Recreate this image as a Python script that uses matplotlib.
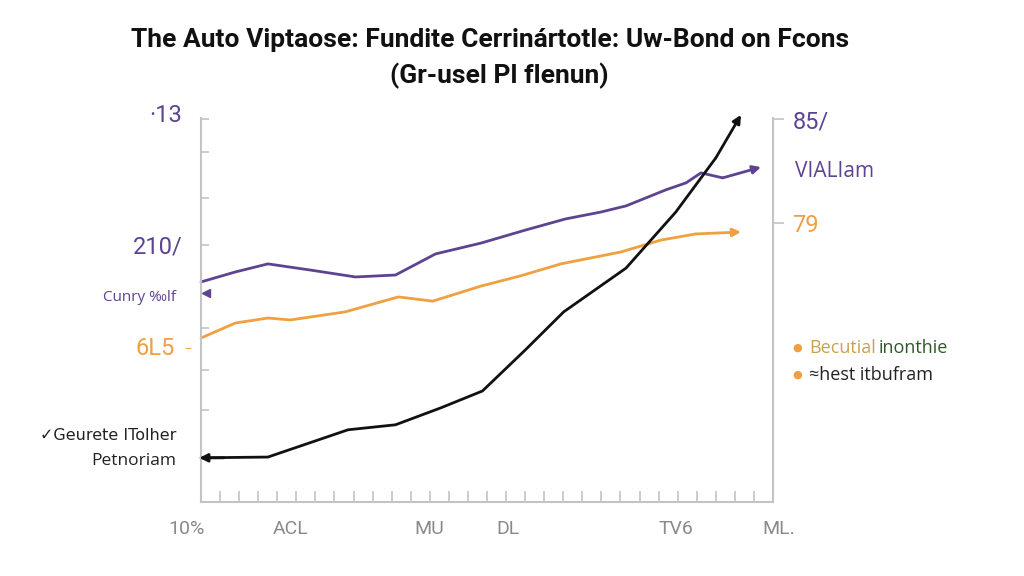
import numpy as np
import matplotlib
matplotlib.use("Agg")
import matplotlib.pyplot as plt

# series values (x runs 0..100 along the axis, y 0..100)
purple_x = [0, 6.0, 11.7, 19.1, 27.0, 34.0, 41.0, 48.9, 56.7, 63.7, 69.9, 74.3, 81.3, 84.8, 87.4, 91.2, 97.9]
purple_y = [57.3, 59.9, 62.0, 60.4, 58.6, 59.1, 64.6, 67.4, 70.8, 73.7, 75.5, 77.1, 81.3, 83.1, 85.7, 84.4, 87.2]

orange_x = [0, 6.0, 11.7, 15.6, 25.2, 34.5, 40.5, 48.9, 55.9, 62.9, 73.4, 80.4, 86.5, 94.4]
orange_y = [42.7, 46.6, 47.9, 47.4, 49.5, 53.4, 52.3, 56.2, 58.9, 62.0, 65.1, 68.2, 69.8, 70.3]

black_x = [0, 11.7, 25.7, 34.0, 41.9, 49.2, 56.7, 63.4, 74.3, 83.0, 90.0, 94.4]
black_y = [11.5, 11.7, 18.8, 20.1, 24.5, 28.9, 39.6, 49.5, 60.9, 75.5, 89.6, 100.8]

x_labels = ["10%", "ACL", "MU", "DL", "TV6", "ML."]
x_label_pos = [-2.5, 15.6, 39.9, 53.6, 83.0, 101.0]

left_ticks = [99.7, 91.1, 79.2, 66.9, 45.3, 34.4, 24.0, 11.5]
right_ticks = [99.7, 72.7]
right_labels = ["85/", "79"]

title1 = "The Auto Viptaose: Fundite Cerrinártotle: Uw-Bond on Fcons"
title2 = "(Gr-usel Pl flenun)"

PURPLE = "#5e4391"
ORANGE = "#f0a040"
BLACK = "#111111"
GRID = "#c4c4c4"
NUM = ["Roboto", "DejaVu Sans"]
SANS = ["Open Sans", "DejaVu Sans"]

fig = plt.figure(figsize=(10.24, 5.76), dpi=100)
ax = fig.add_axes([0.1963, 0.1285, 0.5586, 0.6667])
ax.set_xlim(0, 100)
ax.set_ylim(0, 100)

# lines + arrow heads at the right end
for xs, ys, col in [(purple_x, purple_y, PURPLE), (orange_x, orange_y, ORANGE), (black_x, black_y, BLACK)]:
    ax.plot(xs[:-1], ys[:-1], color=col, lw=2, clip_on=False, solid_capstyle="round")
    ax.annotate("", xy=(xs[-1], ys[-1]), xytext=(xs[-2], ys[-2]),
                arrowprops=dict(arrowstyle="-|>", color=col, lw=2, mutation_scale=12,
                                shrinkA=0, shrinkB=0), annotation_clip=False)

# left-pointing arrow heads at the start
ax.annotate("", xy=(-0.3, black_y[0]), xytext=(4, black_y[0]),
            arrowprops=dict(arrowstyle="-|>", color=BLACK, lw=2, mutation_scale=12,
                            shrinkA=0, shrinkB=0), annotation_clip=False)
ax.plot([0.8], [54.4], marker="<", color=PURPLE, ms=6, clip_on=False)

# spines
ax.spines["top"].set_visible(False)
for s in ["left", "bottom", "right"]:
    ax.spines[s].set_color(GRID)
    ax.spines[s].set_linewidth(1.5)

ax.set_xticks(np.linspace(0, 100, 31), minor=True)
ax.set_xticks([])
ax.tick_params(axis="x", which="minor", direction="in", length=8, width=1.2, color=GRID)
ax.set_yticks(left_ticks)
ax.set_yticklabels([])
ax.tick_params(axis="y", direction="in", length=6, width=1.2, color=GRID)

for lab, xp in zip(x_labels, x_label_pos):
    ax.text(xp, -0.07, lab, transform=ax.get_xaxis_transform(), ha="center", va="center",
            fontsize=14, color="#8a8a8a", family=NUM, clip_on=False)

# right axis
ax2 = ax.twinx()
ax2.set_ylim(0, 100)
for s in ["top", "left", "bottom", "right"]:
    ax2.spines[s].set_visible(False)
ax2.set_yticks(right_ticks)
ax2.set_yticklabels(right_labels, family=NUM, fontsize=17)
ax2.tick_params(axis="y", direction="out", length=8, width=1.2, color=GRID, pad=6)
for t, col in zip(ax2.get_yticklabels(), [PURPLE, ORANGE]):
    t.set_color(col)

# title
fig.text(0.479, 0.93, title1, ha="center", va="center", fontsize=19, weight="bold",
         family=NUM, color="#111111")
fig.text(0.488, 0.868, title2, ha="center", va="center", fontsize=19, weight="bold",
         family=NUM, color="#111111")

# left side labels
fig.text(0.178, 0.80, "·13", ha="right", va="center", fontsize=17, color=PURPLE, family=NUM)
fig.text(0.178, 0.571, "210/", ha="right", va="center", fontsize=17, color=PURPLE, family=NUM)
fig.text(0.172, 0.483, "Cunry ‰lf", ha="right", va="center", fontsize=11, color=PURPLE, family=SANS)
fig.text(0.171, 0.395, "6L5", ha="right", va="center", fontsize=17, color=ORANGE, family=NUM)
fig.text(0.184, 0.395, "–", ha="center", va="center", fontsize=10, color=ORANGE, family=SANS)
fig.text(0.172, 0.244, "✓Geurete ITolher", ha="right", va="center", fontsize=11.5, color="#222222",
         family=["DejaVu Sans"])
fig.text(0.172, 0.200, "Petnoriam", ha="right", va="center", fontsize=12.5, color="#222222", family=SANS)

# right side labels
fig.text(0.776, 0.702, "VIALIam", ha="left", va="center", fontsize=15, color=PURPLE, family=SANS)
fig.text(0.779, 0.396, "●", ha="center", va="center", fontsize=8, color=ORANGE)
fig.text(0.790, 0.396, "Becutial", ha="left", va="center", fontsize=13, color="#c9a24f", family=SANS)
fig.text(0.858, 0.396, "inonthie", ha="left", va="center", fontsize=13, color="#2e5a2a", family=SANS)
fig.text(0.779, 0.349, "●", ha="center", va="center", fontsize=8, color=ORANGE)
fig.text(0.790, 0.349, "≈hest itbufram", ha="left", va="center", fontsize=13, color="#222222", family=SANS)

fig.savefig("out.png", dpi=100, facecolor="white")
